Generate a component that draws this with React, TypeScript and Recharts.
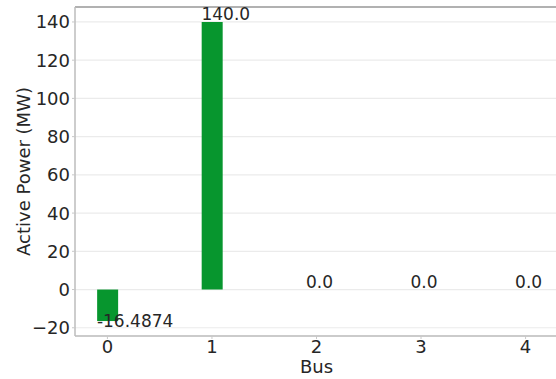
import {
  ComposedChart,
  Bar,
  Scatter,
  XAxis,
  YAxis,
  CartesianGrid,
  ReferenceLine,
} from "recharts";

const buses = [0, 1, 2, 3, 4];
const activePower = [-16.4874, 140.0, 0.0, 0.0, 0.0];
const yTicks = [-20, 0, 20, 40, 60, 80, 100, 120, 140];

const data = buses.map((bus, i) => ({ bus, power: activePower[i] }));

// matplotlib-style 5% autoscale margins
const yMin = Math.min(...activePower);
const yMax = Math.max(...activePower);
const yPad = (yMax - yMin) * 0.05;
const yDomain = [yMin - yPad, yMax + yPad];
const xDomain = [-0.31, 4.31];

const FONT = "'DejaVu Sans', sans-serif";
const TEXT = "#262626";
const BAR = "#07962e";
const BAR_W = 21;
const TICK_SIZE = 18;

const fmtTick = (v: number) => String(v).replace("-", "\u2212");
const fmtValue = (v: number) => (v % 1 === 0 ? v.toFixed(1) : String(v));

const XTick = (props: any) => {
  const { x, y, payload } = props;
  return (
    <text x={x} y={y + 13} textAnchor="middle" fontSize={TICK_SIZE} fontFamily={FONT} fill={TEXT}>
      {payload.value}
    </text>
  );
};

const YTick = (props: any) => {
  const { x, y, payload } = props;
  return (
    <text x={x} y={y + 6.5} textAnchor="end" fontSize={TICK_SIZE} fontFamily={FONT} fill={TEXT}>
      {fmtTick(payload.value)}
    </text>
  );
};

// value text starts at the bar's left edge; above for >= 0, below for < 0
const BarValue = (props: any) => {
  const { cx, cy, payload } = props;
  const v = payload.power;
  const baseline = v < 0 ? cy + 5.5 : cy - 2;
  return (
    <text x={cx - BAR_W / 2} y={baseline} fontSize={17} fontFamily={FONT} fill={TEXT}>
      {fmtValue(v)}
    </text>
  );
};

export default function App() {
  return (
    <div
      style={{
        position: "absolute",
        left: 0,
        top: 0,
        width: 556,
        height: 379,
        overflow: "hidden",
        background: "#fff",
      }}
    >
      <ComposedChart
        width={560}
        height={379}
        data={data}
        margin={{ top: 7, right: 2, bottom: 0, left: 0 }}
      >
        <CartesianGrid horizontal vertical={false} stroke="#ebebeb" strokeWidth={1.2} />
        <XAxis
          dataKey="bus"
          type="number"
          domain={xDomain}
          ticks={buses}
          allowDataOverflow
          height={43}
          tickSize={3}
          tickMargin={1}
          tick={<XTick />}
          tickLine={{ stroke: "#c8c8c8" }}
          axisLine={{ stroke: "#bcbcbc", strokeWidth: 1.5 }}
          label={(p: any) => {
            const vb = p.viewBox;
            return (
              <text
                x={vb.x + vb.width / 2}
                y={373}
                textAnchor="middle"
                fontSize={18}
                fontFamily={FONT}
                fill={TEXT}
              >
                Bus
              </text>
            );
          }}
        />
        <YAxis
          type="number"
          domain={yDomain}
          ticks={yTicks}
          allowDataOverflow
          width={75}
          tickSize={3}
          tickMargin={2}
          tick={<YTick />}
          tickLine={{ stroke: "#c8c8c8" }}
          axisLine={{ stroke: "#bcbcbc", strokeWidth: 1.5 }}
          label={(p: any) => {
            const vb = p.viewBox;
            const cy = vb.y + vb.height / 2;
            return (
              <text
                x={30}
                y={cy}
                transform={`rotate(-90, 30, ${cy})`}
                textAnchor="middle"
                fontSize={18}
                fontFamily={FONT}
                fill={TEXT}
              >
                Active Power (MW)
              </text>
            );
          }}
        />
        <ReferenceLine y={yDomain[1]} stroke="#9a9a9a" strokeWidth={1.5} />
        <Bar dataKey="power" fill={BAR} barSize={BAR_W} isAnimationActive={false} />
        <Scatter dataKey="power" shape={<BarValue />} isAnimationActive={false} />
      </ComposedChart>
    </div>
  );
}
